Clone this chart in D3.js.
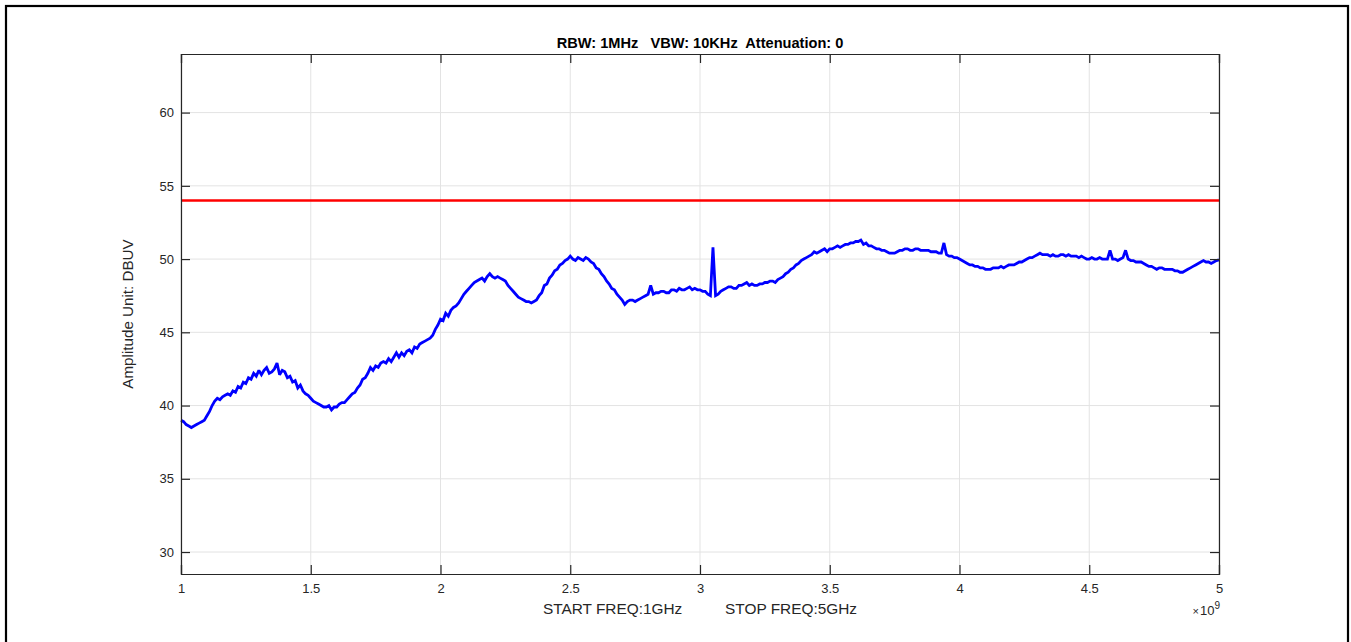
<!DOCTYPE html>
<html>
<head>
<meta charset="utf-8">
<script src="https://cdn.jsdelivr.net/npm/d3@7/dist/d3.min.js"></script>
<style>
  html, body { margin: 0; padding: 0; background: #ffffff; }
  svg { display: block; font-family: "Liberation Sans", Arial, Helvetica, sans-serif; }
</style>
</head>
<body>
<svg id="chart" width="1351" height="642"></svg>
<script>
// ---- data ----
const titleText = "RBW: 1MHz   VBW: 10KHz  Attenuation: 0";
const xLabelText = "START FREQ:1GHz          STOP FREQ:5GHz";
const yLabelText = "Amplitude Unit: DBUV";
const sweepStartGHz = 1;
const sweepStopGHz = 5;
const xTicks = [1, 1.5, 2, 2.5, 3, 3.5, 4, 4.5, 5];
const yTicks = [30, 35, 40, 45, 50, 55, 60];
const limitDbuv = 54;
// measured trace, one value per 10 MHz from 1 GHz to 5 GHz (401 sweep points)
const ampDbuv = [
  39.0, 38.9, 38.7, 38.6, 38.5, 38.6, 38.7, 38.8, 38.9, 39.0,
  39.3, 39.6, 40.0, 40.3, 40.5, 40.4, 40.6, 40.7, 40.8, 40.7,
  41.0, 40.9, 41.3, 41.2, 41.6, 41.5, 41.9, 41.8, 42.2, 42.0,
  42.4, 42.1, 42.4, 42.6, 42.2, 42.3, 42.5, 42.9, 42.1, 42.4,
  42.3, 41.9, 42.0, 41.6, 41.7, 41.2, 41.4, 41.0, 40.8, 40.7,
  40.5, 40.3, 40.2, 40.1, 40.0, 39.9, 39.9, 40.0, 39.7, 39.9,
  39.9, 40.1, 40.2, 40.2, 40.4, 40.6, 40.8, 40.9, 41.2, 41.4,
  41.8, 41.9, 42.2, 42.6, 42.4, 42.7, 42.6, 42.9, 43.0, 42.9,
  43.2, 43.0, 43.3, 43.6, 43.3, 43.6, 43.4, 43.7, 43.8, 43.6,
  44.0, 43.9, 44.2, 44.3, 44.4, 44.5, 44.6, 44.8, 45.2, 45.5,
  45.9, 45.8, 46.3, 46.1, 46.5, 46.7, 46.8, 47.0, 47.3, 47.6,
  47.8, 48.0, 48.2, 48.4, 48.5, 48.6, 48.7, 48.5, 48.8, 49.0,
  48.8, 48.7, 48.8, 48.7, 48.6, 48.5, 48.2, 48.0, 47.8, 47.6,
  47.4, 47.3, 47.2, 47.1, 47.1, 47.0, 47.1, 47.2, 47.5, 47.7,
  48.2, 48.3, 48.7, 48.9, 49.2, 49.3, 49.6, 49.7, 49.9, 50.0,
  50.2, 50.0, 49.9, 50.1, 50.0, 49.9, 50.1, 50.0, 49.8, 49.7,
  49.4, 49.3, 49.0, 48.8, 48.5, 48.3, 48.0, 47.9, 47.6, 47.4,
  47.2, 46.9, 47.1, 47.2, 47.2, 47.1, 47.2, 47.3, 47.4, 47.5,
  47.6, 48.2, 47.6, 47.7, 47.7, 47.8, 47.8, 47.7, 47.7, 47.9,
  47.9, 47.8, 48.0, 47.9, 47.9, 48.0, 48.1, 47.9, 48.0, 47.9,
  47.9, 47.8, 47.8, 47.6, 47.5, 50.8, 47.5, 47.6, 47.8, 47.9,
  48.0, 48.1, 48.1, 48.0, 48.0, 48.2, 48.2, 48.3, 48.4, 48.2,
  48.3, 48.2, 48.2, 48.3, 48.3, 48.4, 48.4, 48.5, 48.5, 48.4,
  48.6, 48.7, 48.8, 49.0, 49.1, 49.3, 49.4, 49.6, 49.7, 49.9,
  50.0, 50.1, 50.2, 50.3, 50.5, 50.4, 50.5, 50.6, 50.7, 50.5,
  50.7, 50.7, 50.8, 50.9, 50.8, 50.9, 51.0, 51.0, 51.1, 51.1,
  51.2, 51.2, 51.3, 51.0, 51.1, 50.9, 50.9, 50.8, 50.7, 50.7,
  50.6, 50.6, 50.5, 50.4, 50.4, 50.4, 50.5, 50.6, 50.6, 50.7,
  50.7, 50.6, 50.6, 50.7, 50.7, 50.6, 50.6, 50.6, 50.6, 50.5,
  50.5, 50.5, 50.4, 50.4, 51.1, 50.3, 50.2, 50.2, 50.1, 50.1,
  50.0, 49.9, 49.8, 49.7, 49.6, 49.6, 49.5, 49.5, 49.4, 49.4,
  49.3, 49.3, 49.3, 49.4, 49.4, 49.4, 49.5, 49.4, 49.5, 49.6,
  49.6, 49.6, 49.7, 49.8, 49.8, 49.9, 50.0, 50.1, 50.1, 50.2,
  50.3, 50.4, 50.3, 50.3, 50.3, 50.2, 50.3, 50.2, 50.2, 50.3,
  50.3, 50.2, 50.3, 50.2, 50.2, 50.2, 50.1, 50.2, 50.1, 50.0,
  50.0, 50.1, 50.0, 50.0, 50.1, 50.0, 50.0, 50.0, 50.6, 50.0,
  50.0, 49.9, 50.0, 50.1, 50.6, 50.0, 49.9, 49.9, 49.8, 49.8,
  49.8, 49.7, 49.6, 49.5, 49.5, 49.4, 49.3, 49.4, 49.4, 49.3,
  49.3, 49.3, 49.3, 49.2, 49.2, 49.1, 49.1, 49.2, 49.3, 49.4,
  49.5, 49.6, 49.7, 49.8, 49.9, 49.8, 49.8, 49.7, 49.8, 49.9,
  49.95
];

// ---- layout ----
const svg = d3.select("#chart");
const L = 181, T = 54, R = 1219, B = 574;
const axisColor = "#262626";

svg.append("rect").attr("x", 6).attr("y", 6).attr("width", 1342).attr("height", 700)
  .attr("fill", "none").attr("stroke", "#000").attr("stroke-width", 2.2);

const x = d3.scaleLinear().domain([sweepStartGHz, sweepStopGHz]).range([L, R]);
const y = d3.scaleLinear().domain([28.5, 64]).range([B, T]);

// grid
const grid = svg.append("g");
grid.selectAll("line.gx").data(xTicks).join("line").attr("class", "gx")
  .attr("x1", d => x(d)).attr("x2", d => x(d)).attr("y1", T).attr("y2", B)
  .attr("stroke", "#e3e3e3").attr("stroke-width", 1);
grid.selectAll("line.gy").data(yTicks).join("line").attr("class", "gy")
  .attr("x1", L).attr("x2", R).attr("y1", d => y(d)).attr("y2", d => y(d))
  .attr("stroke", "#e3e3e3").attr("stroke-width", 1);

// limit line
svg.append("line").attr("x1", x(sweepStartGHz)).attr("x2", x(sweepStopGHz))
  .attr("y1", y(limitDbuv)).attr("y2", y(limitDbuv))
  .attr("stroke", "#ff0000").attr("stroke-width", 2.5);

// trace
const nPts = ampDbuv.length;
const pts = ampDbuv.map((v, i) => [sweepStartGHz + i * (sweepStopGHz - sweepStartGHz) / (nPts - 1), v]);
svg.append("path").datum(pts)
  .attr("fill", "none").attr("stroke", "#0000ff").attr("stroke-width", 2.8)
  .attr("stroke-linejoin", "miter").attr("stroke-miterlimit", 2)
  .attr("d", d3.line().x(d => x(d[0])).y(d => y(d[1])));

// axes (ticks inward on all sides)
const tickLen = 9;
const gBottom = svg.append("g").attr("transform", `translate(0,${B})`)
  .call(d3.axisBottom(x).tickValues(xTicks).tickSize(-tickLen).tickPadding(10).tickFormat(d => String(d)));
const gTop = svg.append("g").attr("transform", `translate(0,${T})`)
  .call(d3.axisTop(x).tickValues(xTicks).tickSize(-tickLen).tickFormat(""));
const gLeft = svg.append("g").attr("transform", `translate(${L},0)`)
  .call(d3.axisLeft(y).tickValues(yTicks).tickSize(-tickLen).tickPadding(7).tickFormat(d => String(d)));
const gRight = svg.append("g").attr("transform", `translate(${R},0)`)
  .call(d3.axisRight(y).tickValues(yTicks).tickSize(-tickLen).tickFormat(""));
[gBottom, gTop, gLeft, gRight].forEach(g => {
  g.select(".domain").attr("stroke", axisColor).attr("stroke-width", 1.2);
  g.selectAll(".tick line").attr("stroke", axisColor).attr("stroke-width", 1.2);
  g.selectAll(".tick text").attr("fill", axisColor)
    .style("font-family", "'Liberation Sans', Arial, sans-serif").style("font-size", "13px");
});

// exponent
const ex = svg.append("text").attr("x", R + 1).attr("y", 615).attr("text-anchor", "end")
  .attr("fill", axisColor).style("font-size", "13px");
ex.append("tspan").text("\u00d7").style("font-size", "11px");
ex.append("tspan").text("10").attr("dx", 1);
ex.append("tspan").text("9").attr("dy", -6).style("font-size", "10px");

// title
svg.append("text").attr("x", (L + R) / 2).attr("y", 47.5).attr("text-anchor", "middle")
  .attr("xml:space", "preserve").style("white-space", "pre")
  .attr("fill", "#000").style("font-size", "14.6px").style("font-weight", "bold").text(titleText);

// x label
svg.append("text").attr("x", (L + R) / 2).attr("y", 614).attr("text-anchor", "middle")
  .attr("xml:space", "preserve").style("white-space", "pre")
  .attr("fill", axisColor).style("font-size", "15.4px").text(xLabelText);

// y label
svg.append("text").attr("transform", `translate(133,${(T + B) / 2}) rotate(-90)`)
  .attr("text-anchor", "middle").attr("fill", axisColor).style("font-size", "15.2px").text(yLabelText);
</script>
</body>
</html>
